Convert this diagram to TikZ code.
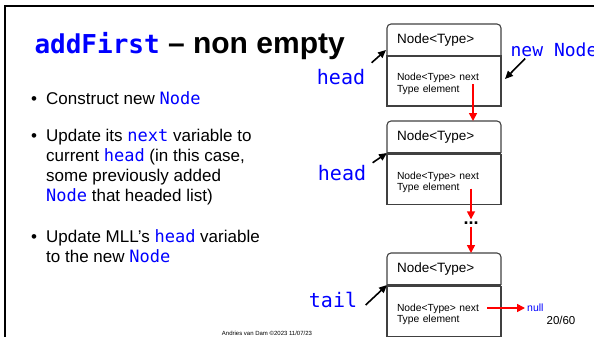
\documentclass[tikz,border=0pt]{standalone}
\usepackage{fontspec}
\setmainfont{Liberation Sans}
\setmonofont{DejaVu Sans Mono}
\usetikzlibrary{arrows.meta,positioning,calc}
\definecolor{codeblue}{RGB}{0,0,255}
\definecolor{boxgray}{RGB}{64,64,64}
\newcommand{\code}[1]{\textcolor{codeblue}{\texttt{#1}}}

\begin{document}
\begin{tikzpicture}[x=1pt, y=-1pt,
    hdr/.style={minimum width=114pt, minimum height=32pt, text width=94pt, inner xsep=10pt, inner ysep=0pt, outer sep=0pt, align=left, font=\fontsize{13.5}{15}\selectfont},
    body/.style={draw=boxgray, line width=1.1pt, minimum width=114pt, minimum height=50pt, inner sep=0pt, outer sep=0pt},
    btxt/.style={text width=94pt, inner sep=0pt, align=left, font=\fontsize{10.3}{11.5}\selectfont},
    boxline/.style={draw=boxgray, line width=1.1pt},
    ptr/.style={font=\ttfamily\fontsize{20}{20}\selectfont, text=codeblue},
    bul/.style={inner sep=0pt, align=left, font=\fontsize{17}{20}\selectfont},
    arr/.style={-{Triangle[length=8pt,width=7pt]}, line width=1.6pt},
    nxt/.style={-{Triangle[length=8pt,width=8pt]}, line width=1.6pt, red}
]
\useasboundingbox (0,0) rectangle (594,337);
\clip (0,0) rectangle (594,337);
\draw[line width=2.5pt] (5,338) -- (5,6) -- (594,6);

\node[anchor=base west, font=\bfseries\fontsize{30}{30}\selectfont] (title) at (31,54)
    {{\fontsize{26}{30}\selectfont\code{addFirst}} -- non empty};

\node[bul, anchor=base west] (t1) at (46,104) {\llap{\textbullet\hspace{9pt}}Construct new \code{Node}};
\node[bul, anchor=north west] (t2) at (46,128.5) {\llap{\textbullet\hspace{9pt}}Update its \code{next} variable to\\current \code{head} (in this case,\\some previously added\\\code{Node} that headed list)};
\node[bul, anchor=north west] (t3) at (46,229.5) {\llap{\textbullet\hspace{9pt}}Update MLL's \code{head} variable\\to the new \code{Node}};

\node[hdr] (h1) at (444,40) {Node<Type>};
\node[body, below=0pt of h1] (b1) {};
\node[hdr] (h2) at (444,137) {Node<Type>};
\node[body, below=1.5pt of h2] (b2) {};
\node[font=\bfseries\fontsize{18}{18}\selectfont, text height=3pt, text depth=0pt, inner sep=2pt] (dots) at (471,223) {...};
\node[hdr] (h3) at (444,269) {Node<Type>};
\node[body, below=1.5pt of h3] (b3) {};
\foreach \i in {1,2,3} {
    \draw[boxline, rounded corners=4pt] (h\i.south west) -- (h\i.north west) -- (h\i.north east) -- (h\i.south east);
    \draw[boxline] (h\i.south west) -- (h\i.south east);
    \node[btxt] (f\i) at ($(b\i.center)+(0,3)$) {Node<Type> next\\Type element};
}

\node[ptr] (hd1) at (341,77) {head};
\node[ptr] (hd2) at (342,173) {head};
\node[ptr] (tl) at (333,300) {tail};
\node[ptr, font=\ttfamily\fontsize{18}{18}\selectfont] (nn) at (554,50) {new Node};
\node[anchor=west, inner sep=2pt, text=codeblue, font=\fontsize{10.5}{12}\selectfont] (nul) at (525,308) {null};

\draw[arr] ([xshift=3pt,yshift=3pt]hd1.north east) -- ([xshift=-1pt,yshift=6pt]h1.south west);
\draw[arr] ([xshift=3pt,yshift=-1pt]hd2.north east) -- (h2.south west);
\draw[arr] ([xshift=5pt,yshift=-5pt]tl.east) -- (h3.south west);
\draw[arr] ([xshift=18pt,yshift=2pt]nn.south west) -- ([xshift=4pt,yshift=2pt]b1.east);

\coordinate (n1) at ($(f1.center)+(29,0)$);
\coordinate (n2) at ($(f2.center)+(27,6)$);
\coordinate (n3) at ($(f3.center)+(43,0)$);
\draw[nxt] (n1) -- (n1 |- h2.north);
\draw[nxt] (n2) -- (dots.north);
\draw[nxt] (dots.south) -- (dots |- h3.north);
\draw[nxt] (n3 |- nul.west) -- (nul.west);

\node[font=\fontsize{6}{7}\selectfont] (foot) at (267,333) {Andries van Dam ©2023 11/07/23};
\node[font=\fontsize{11.5}{13}\selectfont] (page) at (561,320) {20/60};
\end{tikzpicture}
\end{document}
